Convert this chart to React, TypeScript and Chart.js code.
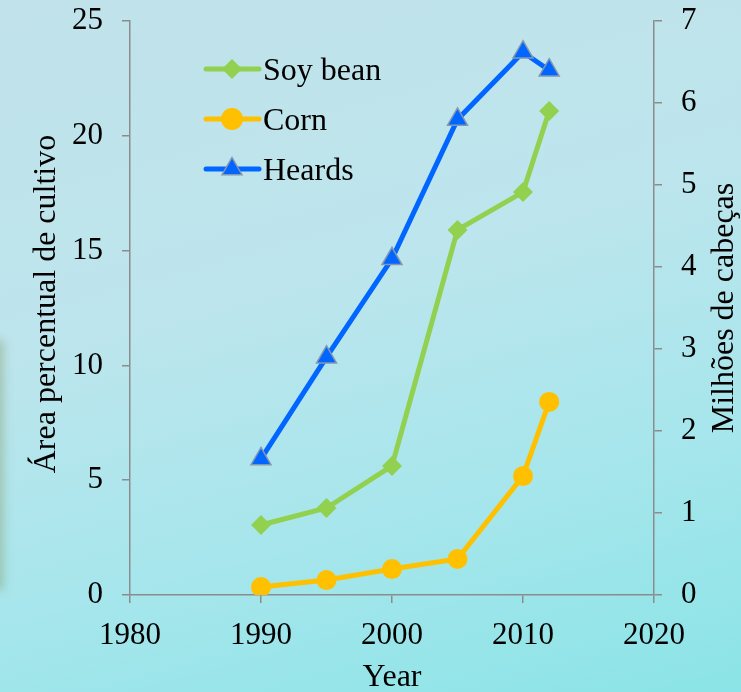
import React, { useEffect, useRef } from "react";
import { Chart, registerables } from "chart.js";

Chart.register(...registerables);

const years = [1990, 1995, 2000, 2005, 2010, 2012];
const soyBean = [3.05, 3.79, 5.62, 15.9, 17.55, 21.08];
const corn = [0.35, 0.65, 1.13, 1.57, 5.18, 8.41];
const herds = [1.66, 2.9, 4.1, 5.8, 6.62, 6.4];

const seriesLabels = ["Soy bean", "Corn", "Heards"];
const leftTitle = "Área percentual de cultivo";
const rightTitle = "Milhões de cabeças";
const xTitle = "Year";

const GREEN = "#92d050";
const ORANGE = "#ffc000";
const BLUE = "#0066ff";
const TRI_BORDER = "#8497b0";
const AXIS = "#8c8c8c";
const FONT = "'Liberation Serif', 'Times New Roman', serif";

const overlayPlugin = {
  id: "overlay",
  afterDraw(chart: any) {
    const ctx = chart.ctx as CanvasRenderingContext2D;
    ctx.save();
    ctx.fillStyle = "#000";
    ctx.font = `32px ${FONT}`;
    ctx.textAlign = "center";
    ctx.textBaseline = "alphabetic";
    ctx.save();
    ctx.translate(55, 304);
    ctx.rotate(-Math.PI / 2);
    ctx.fillText(leftTitle, 0, 0);
    ctx.restore();
    ctx.save();
    ctx.translate(733, 308);
    ctx.rotate(-Math.PI / 2);
    ctx.fillText(rightTitle, 0, 0);
    ctx.restore();
    ctx.fillText(xTitle, 392, 686);

    const rows = [69, 119, 169];
    chart.data.datasets.forEach((ds: any, i: number) => {
      const y = rows[i];
      ctx.strokeStyle = ds.borderColor;
      ctx.lineWidth = 5;
      ctx.lineCap = "round";
      ctx.beginPath();
      ctx.moveTo(206, y);
      ctx.lineTo(259, y);
      ctx.stroke();
      const cx = 232;
      ctx.fillStyle = ds.pointBackgroundColor;
      ctx.beginPath();
      if (i === 0) {
        const r = 10;
        ctx.moveTo(cx, y - r);
        ctx.lineTo(cx + r, y);
        ctx.lineTo(cx, y + r);
        ctx.lineTo(cx - r, y);
        ctx.closePath();
        ctx.fill();
      } else if (i === 1) {
        ctx.arc(cx, y, 11, 0, Math.PI * 2);
        ctx.fill();
      } else {
        const r = 11.5;
        ctx.moveTo(cx, y - r);
        ctx.lineTo(cx + r * 0.866, y + r / 2);
        ctx.lineTo(cx - r * 0.866, y + r / 2);
        ctx.closePath();
        ctx.fill();
        ctx.strokeStyle = TRI_BORDER;
        ctx.lineWidth = 1.5;
        ctx.stroke();
      }
      ctx.fillStyle = "#000";
      ctx.textAlign = "left";
      ctx.textBaseline = "alphabetic";
      ctx.font = `32px ${FONT}`;
      ctx.fillText(ds.label, 263, y + 11);
    });
    ctx.restore();
  },
};

export default function App() {
  const canvasRef = useRef<HTMLCanvasElement | null>(null);

  useEffect(() => {
    document.body.style.margin = "0";
    const canvas = canvasRef.current!;
    const tickFont = { family: FONT, size: 31 };
    const gridCommon = {
      drawOnChartArea: false,
      drawTicks: true,
      tickLength: 8,
      color: AXIS,
      lineWidth: 1.5,
    };
    const border = { display: true, color: AXIS, width: 1.5 };
    const noPadV = (w: number) => (s: any) => {
      s.width = w;
      s.paddingTop = 0;
      s.paddingBottom = 0;
    };

    const chart = new Chart(canvas, {
      type: "line",
      data: {
        datasets: [
          {
            label: seriesLabels[0],
            data: years.map((x, i) => ({ x, y: soyBean[i] })),
            yAxisID: "y",
            borderColor: GREEN,
            backgroundColor: GREEN,
            pointBackgroundColor: GREEN,
            pointBorderColor: GREEN,
            borderWidth: 5,
            pointStyle: "rectRot",
            pointRadius: 10,
            pointBorderWidth: 0,
          },
          {
            label: seriesLabels[1],
            data: years.map((x, i) => ({ x, y: corn[i] })),
            yAxisID: "y",
            borderColor: ORANGE,
            backgroundColor: ORANGE,
            pointBackgroundColor: ORANGE,
            pointBorderColor: ORANGE,
            borderWidth: 5,
            pointStyle: "circle",
            pointRadius: 10,
            pointBorderWidth: 0,
          },
          {
            label: seriesLabels[2],
            data: years.map((x, i) => ({ x, y: herds[i] })),
            yAxisID: "y1",
            borderColor: BLUE,
            backgroundColor: BLUE,
            pointBackgroundColor: BLUE,
            pointBorderColor: TRI_BORDER,
            borderWidth: 5,
            pointStyle: "triangle",
            pointRadius: 11.5,
            pointBorderWidth: 1.5,
          },
        ],
      },
      options: {
        animation: false,
        responsive: false,
        maintainAspectRatio: false,
        layout: { padding: { top: 21, left: 0, right: 0, bottom: 0 } },
        plugins: { legend: { display: false }, tooltip: { enabled: false } },
        scales: {
          x: {
            type: "linear",
            position: "bottom",
            min: 1980,
            max: 2020,
            ticks: { stepSize: 10, color: "#000", font: tickFont, padding: 14, maxRotation: 0, callback: (v: any) => String(v) },
            grid: gridCommon,
            border,
            afterFit: (s: any) => {
              s.height = 97;
              s.paddingLeft = 0;
              s.paddingRight = 0;
            },
          },
          y: {
            type: "linear",
            position: "left",
            min: 0,
            max: 25,
            ticks: { stepSize: 5, color: "#000", font: tickFont, padding: 19 },
            grid: gridCommon,
            border,
            afterFit: noPadV(130),
          },
          y1: {
            type: "linear",
            position: "right",
            min: 0,
            max: 7,
            ticks: { stepSize: 1, color: "#000", font: tickFont, padding: 19 },
            grid: gridCommon,
            border,
            afterFit: noPadV(87),
          },
        },
      } as any,
      plugins: [overlayPlugin],
    });
    return () => chart.destroy();
  }, []);

  return (
    <div
      style={{
        position: "relative",
        width: 741,
        height: 692,
        overflow: "hidden",
        background:
          "linear-gradient(165deg, #c1e2ea 0%, #bde5ed 40%, #a6e6ec 70%, #8be4e7 100%)",
      }}
    >
      <div
        style={{
          position: "absolute",
          left: -8,
          top: 340,
          width: 16,
          height: 250,
          background: "linear-gradient(to right, #86a070, rgba(150,190,160,0))",
          filter: "blur(5px)",
          opacity: 0.8,
        }}
      />
      <canvas
        ref={canvasRef}
        width={741}
        height={692}
        style={{ position: "absolute", left: 0, top: 0, width: 741, height: 692 }}
      />
    </div>
  );
}
